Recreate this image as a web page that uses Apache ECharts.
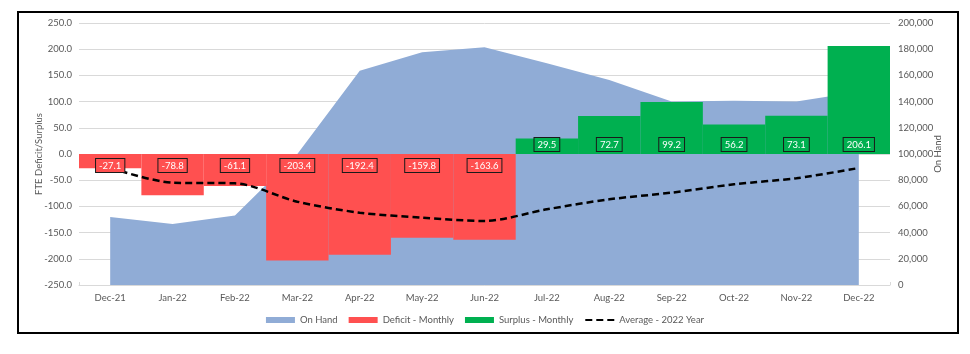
<!DOCTYPE html>
<html>
<head>
<meta charset="utf-8">
<script src="https://cdn.jsdelivr.net/npm/echarts@6/dist/echarts.min.js"></script>
<style>
  html, body { margin: 0; padding: 0; background: #fff; }
  #main { width: 970px; height: 354px; }
</style>
</head>
<body>
<div id="main"></div>
<script>
// chart data
var months = ['Dec-21', 'Jan-22', 'Feb-22', 'Mar-22', 'Apr-22', 'May-22', 'Jun-22',
  'Jul-22', 'Aug-22', 'Sep-22', 'Oct-22', 'Nov-22', 'Dec-22']
var onHand = [52000, 46500, 53000, 100000, 163600, 177600, 181400,
  169200, 156500, 140000, 140700, 140000, 147500]
var deficit = [-27.1, -78.8, -61.1, -203.4, -192.4, -159.8, -163.6,
  '-', '-', '-', '-', '-', '-']
var surplus = ['-', '-', '-', '-', '-', '-', '-',
  29.5, 72.7, 99.2, 56.2, 73.1, 206.1]
var average = [89500, 78100, 77600, 63600, 55200, 51400, 48900,
  57800, 65400, 70500, 76900, 81500, 89300]

var font = 'Lato'
var grey = '#595959'
var red = '#ff5050'
var green = '#00b050'

var chart = echarts.init(document.getElementById('main'))

function boxLabel(color, pos, dist) {
  return {
    show: true,
    position: pos,
    distance: dist,
    color: '#fff',
    fontFamily: font,
    fontSize: 9.5,
    backgroundColor: color,
    borderColor: '#1a1a1a',
    borderWidth: 1,
    padding: [2, 3, 1, 3],
    formatter: function(p) { return p.value.toFixed(1) }
  }
}

// transparent copy of a bar series, only to draw its value boxes above the dashed line
function labelSeries(data, color, pos, dist) {
  return {
    type: 'bar',
    stack: 'labels',
    data: data,
    barGap: '-100%',
    barCategoryGap: '0%',
    silent: true,
    itemStyle: { color: 'rgba(0,0,0,0)' },
    label: boxLabel(color, pos, dist),
    z: 4
  }
}

var option = {
  animation: false,
  textStyle: { fontFamily: font },
  graphic: [{
    type: 'rect',
    shape: { x: 18, y: 12, width: 940, height: 321 },
    style: { fill: 'none', stroke: '#000', lineWidth: 2 },
    silent: true
  }],
  grid: { left: 79, right: 80, top: 23, bottom: 69 },
  legend: {
    bottom: 24,
    left: 'center',
    itemWidth: 29,
    itemHeight: 6,
    itemGap: 11,
    textStyle: { color: grey, fontSize: 9.5, fontFamily: font },
    data: [
      { name: 'On Hand', icon: 'rect' },
      { name: 'Deficit - Monthly', icon: 'rect' },
      { name: 'Surplus - Monthly', icon: 'rect' },
      { name: 'Average - 2022 Year', itemStyle: { opacity: 0 } }
    ]
  },
  xAxis: [
    {
      type: 'category',
      data: months,
      position: 'bottom',
      axisLine: { show: false },
      axisTick: { show: false },
      axisLabel: { color: grey, fontSize: 9.5, margin: 8 }
    },
    {
      type: 'category',
      data: months,
      axisLine: { onZero: true, lineStyle: { color: '#d9d9d9', width: 1 } },
      axisTick: { show: true, length: 3, lineStyle: { color: '#d9d9d9' } },
      axisLabel: { show: false }
    }
  ],
  yAxis: [
    {
      type: 'value',
      min: -250,
      max: 250,
      interval: 50,
      name: 'FTE Deficit/Surplus',
      nameLocation: 'middle',
      nameGap: 35,
      nameMoveOverlap: false,
      nameTextStyle: { color: grey, fontSize: 9.5 },
      axisLine: { show: false },
      axisTick: { show: false },
      axisLabel: {
        color: grey, fontSize: 9.5, margin: 7,
        formatter: function(v) { return v.toFixed(1) }
      },
      splitLine: { lineStyle: { color: '#d9d9d9', width: 1 } }
    },
    {
      type: 'value',
      min: 0,
      max: 200000,
      interval: 20000,
      name: 'On Hand',
      nameLocation: 'middle',
      nameGap: 43,
      nameMoveOverlap: false,
      nameTextStyle: { color: grey, fontSize: 9.5 },
      axisLine: { show: false },
      axisTick: { show: false },
      splitLine: { show: false },
      axisLabel: {
        color: grey, fontSize: 9.5, margin: 8,
        formatter: function(v) { return v.toLocaleString('en-US') }
      }
    }
  ],
  series: [
    {
      name: 'On Hand',
      type: 'line',
      yAxisIndex: 1,
      data: onHand,
      symbol: 'none',
      lineStyle: { width: 0 },
      itemStyle: { color: '#90acd6' },
      areaStyle: { color: '#90acd6', opacity: 1 },
      z: 1
    },
    {
      name: 'Deficit - Monthly',
      type: 'bar',
      stack: 'fte',
      data: deficit,
      barCategoryGap: '0%',
      itemStyle: { color: red },
      z: 2
    },
    {
      name: 'Surplus - Monthly',
      type: 'bar',
      stack: 'fte',
      data: surplus,
      barCategoryGap: '0%',
      itemStyle: { color: green },
      z: 2
    },
    {
      name: 'Average - 2022 Year',
      type: 'line',
      yAxisIndex: 1,
      data: average,
      smooth: 0.3,
      symbol: 'none',
      itemStyle: { color: '#000' },
      lineStyle: { color: '#000', width: 2.5, type: [7, 4] },
      z: 3
    },
    labelSeries(deficit, red, 'insideTop', 5),
    labelSeries(surplus, green, 'insideBottom', 3)
  ]
}

chart.setOption(option)
</script>
</body>
</html>
